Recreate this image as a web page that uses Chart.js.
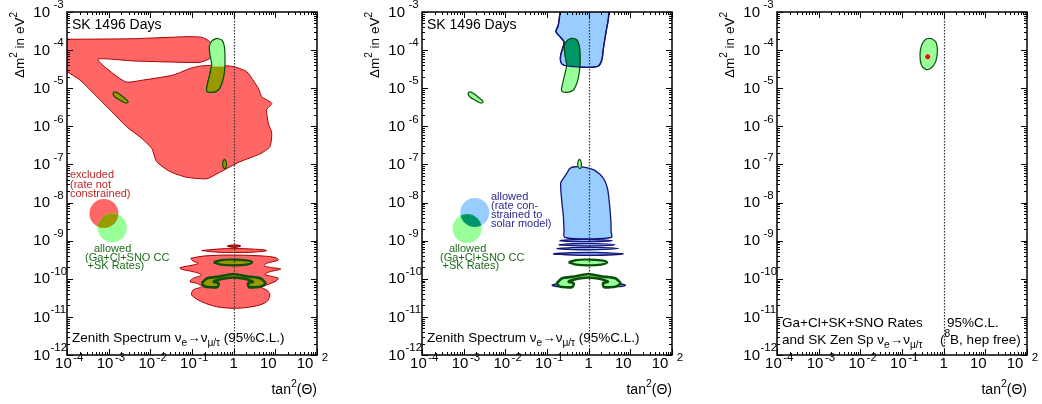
<!DOCTYPE html>
<html>
<head>
<meta charset="utf-8">
<script src="https://cdn.jsdelivr.net/npm/chart.js@4.4.1/dist/chart.umd.min.js"></script>
<style>
  html, body { margin: 0; padding: 0; background: #fff; }
  #wrap { position: relative; width: 1042px; height: 404px; overflow: hidden; }
  #wrap canvas { position: absolute; top: 0; }
</style>
</head>
<body>
<div id="wrap">
  <canvas id="panel1" width="332" height="404" style="left:0px"></canvas>
  <canvas id="panel2" width="332" height="404" style="left:355px"></canvas>
  <canvas id="panel3" width="332" height="404" style="left:710px"></canvas>
</div>
<script>
// Axes
const xRange = [1e-4, 100];
const yRange = [1e-12, 1e-3];
const xTickValues = [1e-4, 1e-3, 1e-2, 1e-1, 1, 10, 100];
const xTickLabels = [['10', '-4'], ['10', '-3'], ['10', '-2'], ['10', '-1'], ['1', ''], ['10', ''], ['10', '2']];
const yTickValues = [1e-12, 1e-11, 1e-10, 1e-9, 1e-8, 1e-7, 1e-6, 1e-5, 1e-4, 1e-3];
const yTickLabels = [['10', '-12'], ['10', '-11'], ['10', '-10'], ['10', '-9'], ['10', '-8'],
                     ['10', '-7'], ['10', '-6'], ['10', '-5'], ['10', '-4'], ['10', '-3']];
const maximalMixing = 1;

// Allowed regions from Ga+Cl+SNO CC+SK rates (same in panels 1 and 2), [tan^2, dm^2]
const ratesLma = [[0.39, 2.04e-4], [0.52, 1.84e-4], [0.6, 1.23e-4], [0.62, 5.0e-5], [0.6, 2.7e-5], [0.535, 1.48e-5],
  [0.43, 9.0e-6], [0.3, 7.8e-6], [0.225, 8.5e-6], [0.238, 1.35e-5], [0.271, 2.47e-5], [0.297, 4.07e-5],
  [0.271, 7.4e-5], [0.26, 1.23e-4], [0.297, 1.73e-4], [0.39, 2.04e-4]];
const ratesSma = [[1.35e-3, 8.1e-6], [1.69e-3, 7.4e-6], [2.44e-3, 5.4e-6], [2.93e-3, 4.4e-6], [2.54e-3, 4.1e-6],
  [1.85e-3, 4.9e-6], [1.4e-3, 6.0e-6], [1.28e-3, 7.0e-6], [1.35e-3, 8.1e-6]];
const ratesLow = [[0.6, 1.38e-7], [0.65, 1.22e-7], [0.67, 9.5e-8], [0.63, 7.8e-8], [0.56, 8.5e-8], [0.55, 1.15e-7], [0.6, 1.38e-7]];
const ratesVacLens = [[0.33, 2.7e-10], [0.5, 3.1e-10], [1.0, 3.2e-10], [2.0, 3.05e-10], [2.8, 2.7e-10],
  [2.0, 2.35e-10], [1.0, 2.25e-10], [0.5, 2.35e-10], [0.33, 2.7e-10]];
const ratesVacArch = [[0.17, 7.6e-11], [0.23, 1.03e-10], [0.45, 1.15e-10], [0.98, 1.33e-10], [2.15, 1.15e-10],
  [4.4, 1.03e-10], [5.8, 7.6e-11], [4.6, 6.3e-11], [2.35, 6.0e-11], [2.2, 7.6e-11], [2.9, 8.4e-11],
  [2.05, 9.7e-11], [0.98, 1.08e-10], [0.48, 9.7e-11], [0.33, 8.4e-11], [0.44, 7.6e-11], [0.4, 6.0e-11],
  [0.2, 6.3e-11], [0.17, 7.6e-11]];

// Panel 1: SK zenith spectrum excluded (rate not constrained)
const p1Excluded = [[6.8e-5, 1.92e-4], [3.9e-3, 1.99e-4], [0.0746, 2.25e-4], [0.171, 2.17e-4], [0.27, 1.66e-4],
  [0.324, 1.0e-4], [0.27, 6.1e-5], [0.156, 4.8e-5], [0.0247, 4.9e-5], [3.9e-3, 5.2e-5], [5.5e-4, 5.7e-5],
  [2.5e-3, 1.48e-5], [6.8e-3, 1.64e-5], [0.0356, 2.22e-5], [0.0895, 3.3e-5], [0.156, 3.8e-5], [0.324, 4.0e-5],
  [0.98, 3.7e-5], [2.06, 2.7e-5], [3.9, 1.0e-5], [4.7, 6.0e-6], [8.2, 4.0e-6], [6.2, 2.7e-6], [6.8, 1.2e-6],
  [8.2, 6.6e-7], [7.4, 2.9e-7], [4.3, 1.9e-7], [1.42, 1.18e-7], [0.82, 8.7e-8], [0.39, 5.6e-8], [0.225, 4.2e-8],
  [0.0746, 4.6e-8], [0.0297, 6.5e-8], [0.0142, 1.18e-7], [0.0108, 2.65e-7], [5.6e-3, 5.3e-7], [2.7e-3, 9.8e-7],
  [1.08e-3, 2.7e-6], [4.3e-4, 7.4e-6], [2.05e-4, 1.64e-5], [1e-4, 2.7e-5], [6.8e-5, 3.2e-5]];
const p1ExcludedLow = [[0.0931, 3.44e-10], [0.187, 3.95e-10], [0.98, 4.2e-10], [5.14, 3.95e-10], [10.4, 3.57e-10],
  [11.8, 3.11e-10], [6.2, 2.55e-10], [5.4, 2.2e-10], [7.4, 2.0e-10], [13.5, 1.8e-10], [7.4, 1.53e-10],
  [5.6, 1.31e-10], [8.9, 1.13e-10], [11.8, 1.03e-10], [9.8, 8.4e-11], [6.2, 6.9e-11], [4.7, 5.8e-11],
  [6.2, 5.1e-11], [7.4, 3.75e-11], [6.2, 2.5e-11], [3.6, 1.96e-11], [1.18, 1.68e-11], [0.39, 1.85e-11],
  [0.171, 2.5e-11], [0.098, 3.75e-11], [0.107, 5.1e-11], [0.171, 6.2e-11], [0.13, 7.6e-11], [0.0895, 8.4e-11],
  [0.107, 1.03e-10], [0.171, 1.26e-10], [0.107, 1.53e-10], [0.0566, 1.77e-10], [0.0515, 1.95e-10],
  [0.107, 2.3e-10], [0.142, 2.55e-10], [0.107, 2.9e-10], [0.0931, 3.44e-10]];
const p1ExcludedBar1 = [[0.7, 7.2e-10], [0.9, 7.6e-10], [1.2, 7.6e-10], [1.45, 7.2e-10], [1.2, 6.8e-10], [0.9, 6.8e-10], [0.7, 7.2e-10]];
const p1ExcludedBar2 = [[0.17, 5.5e-10], [0.4, 6.0e-10], [1.0, 6.2e-10], [3.0, 6.0e-10], [6.2, 5.5e-10],
  [3.0, 5.0e-10], [1.0, 4.9e-10], [0.4, 5.0e-10], [0.17, 5.5e-10]];
const p1LmaOverlap = [[0.61, 3.7e-5], [0.6, 2.7e-5], [0.535, 1.48e-5], [0.43, 9.0e-6], [0.3, 7.8e-6],
  [0.225, 8.5e-6], [0.238, 1.35e-5], [0.271, 2.47e-5], [0.29, 3.7e-5]];
const p1LegendExcluded = [[7.7e-4, 5.2e-9]];
const p1LegendAllowed = [[1.22e-3, 2.19e-9]];

// Panel 2: SK zenith spectrum allowed (rate constrained to solar model)
const p2Lma = [[0.21, 1.5e-3], [0.205, 1e-3], [0.187, 4.56e-4], [0.164, 3.04e-4], [0.205, 2.25e-4], [0.256, 1.66e-4],
  [0.238, 1.12e-4], [0.213, 7.4e-5], [0.213, 5.0e-5], [0.247, 4.07e-5], [0.43, 3.7e-5], [1.08, 3.54e-5],
  [1.71, 3.83e-5], [2.07, 5.5e-5], [2.26, 1.12e-4], [2.62, 3.04e-4], [2.98, 6.8e-4], [3.1, 1.5e-3]];
const p2Low = [[0.297, 5.8e-8], [0.357, 7.9e-8], [0.471, 8.7e-8], [0.82, 8.4e-8], [1.43, 6.9e-8], [2.26, 4.3e-8],
  [2.82, 2.37e-8], [3.15, 9.5e-9], [3.4, 3.5e-9], [3.46, 1.72e-9], [3.52, 1.22e-9], [0.9, 1.12e-9],
  [0.267, 1.22e-9], [0.256, 1.9e-9], [0.247, 4.3e-9], [0.225, 1.17e-8], [0.213, 3.2e-8], [0.247, 4.3e-8], [0.297, 5.8e-8]];
const p2Ripple1 = [[0.2, 1.0e-9], [0.4, 1.06e-9], [1.5, 1.07e-9], [3.7, 1.0e-9], [1.5, 0.95e-9], [0.4, 0.95e-9], [0.2, 1.0e-9]];
const p2Ripple2 = [[0.19, 7.8e-10], [0.4, 8.3e-10], [1.5, 8.4e-10], [4.3, 7.8e-10], [1.5, 7.3e-10], [0.4, 7.4e-10], [0.19, 7.8e-10]];
const p2Ripple3 = [[0.17, 6.2e-10], [0.4, 6.6e-10], [1.5, 6.7e-10], [5.2, 6.2e-10], [1.5, 5.8e-10], [0.4, 5.85e-10], [0.17, 6.2e-10]];
const p2Ripple4 = [[0.14, 4.5e-10], [0.4, 4.85e-10], [1.5, 4.9e-10], [6.8, 4.5e-10], [1.5, 4.15e-10], [0.4, 4.2e-10], [0.14, 4.5e-10]];
const p2TipLeft = [[0.13, 6.8e-11], [0.17, 7.3e-11], [0.25, 7.1e-11], [0.25, 6.4e-11], [0.17, 6.3e-11], [0.13, 6.8e-11]];
const p2TipRight = [[4.2, 7.1e-11], [5.5, 7.3e-11], [7.6, 6.8e-11], [5.5, 6.3e-11], [4.2, 6.4e-11], [4.2, 7.1e-11]];
const p2LmaOverlap = [[0.29, 3.7e-5], [0.297, 4.07e-5], [0.271, 7.4e-5], [0.26, 1.23e-4], [0.297, 1.73e-4],
  [0.39, 2.04e-4], [0.52, 1.84e-4], [0.6, 1.23e-4], [0.62, 5.0e-5], [0.61, 3.7e-5]];
const p2LegendSolar = [[1.85e-3, 5.5e-9]];
const p2LegendRates = [[1.21e-3, 2.1e-9]];

// Panel 3: combined fit
const p3Allowed = [[0.49, 2.04e-4], [0.646, 1.66e-4], [0.71, 1.0e-4], [0.646, 5.0e-5], [0.49, 3.33e-5],
  [0.371, 3.13e-5], [0.292, 4.07e-5], [0.27, 7.4e-5], [0.297, 1.36e-4], [0.371, 1.92e-4], [0.49, 2.04e-4]];
const p3BestFit = [[0.414, 6.7e-5]];

// colours
const RED = '#ff6666', RED_LINE = '#a80000';
const GREEN = '#99ff99', GREEN_LINE = '#0b4f0b';
const OLIVE = '#999900';
const BLUE = '#99ccff', BLUE_LINE = '#14147a';
const TEAL = '#00966a';
const FONT = '"Liberation Sans", Arial, Helvetica, sans-serif';

const pts = arr => arr.map(([x, y]) => ({x, y}));

function region(data, fill, line, width, tension) {
    return {
        data: pts(data), showLine: true, fill: 'shape',
        backgroundColor: fill, borderColor: line, borderWidth: width,
        pointRadius: 0, tension: tension === undefined ? 0.3 : tension,
        borderJoinStyle: 'round'
    };
}
function outline(data, line, width) {
    return {
        data: pts(data), showLine: true, fill: false, backgroundColor: 'transparent',
        borderColor: line, borderWidth: width, pointRadius: 0, tension: 0.3
    };
}
function dot(data, color, radius, style) {
    return {
        data: pts(data), showLine: false, pointRadius: radius,
        pointBackgroundColor: color, pointBorderColor: style ? color : 'transparent',
        pointBorderWidth: style ? 1.4 : 0, pointStyle: style || 'circle'
    };
}

// rich text: parts are [text, 0 normal | 1 superscript | -1 subscript]
function richWidth(ctx, parts, size) {
    let w = 0;
    for (const [t, k] of parts) {
        ctx.font = (k ? size * 0.75 : size) + 'px ' + FONT;
        w += ctx.measureText(t).width;
    }
    return w;
}
function drawRich(ctx, x, y, parts, size, color, align) {
    const w = richWidth(ctx, parts, size);
    let cx = align === 'right' ? x - w : align === 'center' ? x - w / 2 : x;
    ctx.fillStyle = color;
    ctx.textBaseline = 'middle';
    ctx.textAlign = 'left';
    for (const [t, k] of parts) {
        ctx.font = (k ? size * 0.75 : size) + 'px ' + FONT;
        const dy = k === 1 ? -size * 0.42 : k === -1 ? size * 0.38 : 0;
        ctx.fillText(t, cx, y + dy);
        cx += ctx.measureText(t).width;
    }
}

const framePlugin = {
    id: 'frame',
    afterDatasetsDraw(chart, args, opts) {
        const {ctx, chartArea: a} = chart;
        if (opts.overlap) {
            const [under, over, color] = opts.overlap;
            const pu = chart.getDatasetMeta(under).data[0];
            const po = chart.getDatasetMeta(over).data[0];
            ctx.save();
            ctx.beginPath();
            ctx.arc(pu.x, pu.y, pu.options.radius, 0, Math.PI * 2);
            ctx.clip();
            ctx.beginPath();
            ctx.arc(po.x, po.y, po.options.radius, 0, Math.PI * 2);
            ctx.fillStyle = color;
            ctx.fill();
            ctx.restore();
        }
        // dotted line at maximal mixing
        const px = Math.round(chart.scales.x.getPixelForValue(maximalMixing)) + 0.5;
        ctx.save();
        ctx.strokeStyle = '#333';
        ctx.lineWidth = 1.2;
        ctx.setLineDash([1.5, 1.5]);
        ctx.beginPath();
        ctx.moveTo(px, a.top);
        ctx.lineTo(px, a.bottom);
        ctx.stroke();
        ctx.restore();
    },
    afterDraw(chart, args, opts) {
        const {ctx, chartArea: a, scales: {x, y}} = chart;
        ctx.save();
        // ticks, pointing inward on all four sides
        ctx.strokeStyle = '#000';
        ctx.lineWidth = 1;
        ctx.beginPath();
        const tickX = (v, len) => {
            const p = Math.round(x.getPixelForValue(v)) + 0.5;
            ctx.moveTo(p, a.bottom); ctx.lineTo(p, a.bottom - len);
            ctx.moveTo(p, a.top); ctx.lineTo(p, a.top + len);
        };
        const tickY = (v, len) => {
            const p = Math.round(y.getPixelForValue(v)) + 0.5;
            ctx.moveTo(a.left, p); ctx.lineTo(a.left + len, p);
            ctx.moveTo(a.right, p); ctx.lineTo(a.right - len, p);
        };
        xTickValues.forEach((v, i) => {
            tickX(v, 6);
            if (i < xTickValues.length - 1) for (let k = 2; k < 10; k++) tickX(v * k, 3);
        });
        yTickValues.forEach((v, i) => {
            tickY(v, 6);
            if (i < yTickValues.length - 1) for (let k = 2; k < 10; k++) tickY(v * k, 3);
        });
        ctx.stroke();
        // frame
        ctx.lineWidth = 1.5;
        ctx.strokeRect(a.left, a.top, a.right - a.left, a.bottom - a.top);

        // tick labels
        const shift = [-3.6, -3.6, -3.6, -3.6, 0, -7, -12];
        xTickValues.forEach((v, i) => {
            const [base, exp] = xTickLabels[i];
            const p = x.getPixelForValue(v) + shift[i];
            drawRich(ctx, p, a.bottom + 9, [[base, 0]], 15, '#000', 'center');
            if (exp) {
                ctx.font = '15px ' + FONT;
                const bw = ctx.measureText(base).width;
                const gap = exp.length > 1 ? 1.5 : 8.5;
                drawRich(ctx, p + bw / 2 + gap, a.bottom + 3, [[exp, 0]], 11.5, '#000', 'left');
            }
        });
        yTickValues.forEach((v, i) => {
            const [base, exp] = yTickLabels[i];
            const p = y.getPixelForValue(v);
            drawRich(ctx, a.left - 17, p + 0.5, [[base, 0]], 15, '#000', 'right');
            drawRich(ctx, a.left - 17 + (exp.length > 2 ? 0.5 : 3.5), p - 7, [[exp, 0]], 11.5, '#000', 'left');
        });

        // axis titles
        ctx.save();
        ctx.translate(20, 45);
        ctx.rotate(-Math.PI / 2);
        drawRich(ctx, 0, 0, [['\u0394m', 0], ['2', 1], [' in eV', 0], ['2', 1]], 13.5, '#000', 'center');
        ctx.restore();
        drawRich(ctx, a.right, 390, [['tan', 0], ['2', 1], ['(\u0398)', 0]], 14, '#000', 'right');

        // notes
        (opts.notes || []).forEach(n => drawRich(ctx, n.x, n.y, n.parts, n.size, n.color, 'left'));
        ctx.restore();
    }
};

const zenithNote = [['Zenith Spectrum \u03bd', 0], ['e', -1], ['\u2192\u03bd', 0], ['\u03bc/\u03c4', -1], [' (95%C.L.)', 0]];
const ratesNote = [
    {x: 94, y: 249, parts: [['allowed', 0]], size: 11, color: '#1e6b1e'},
    {x: 85, y: 257.5, parts: [['(Ga+Cl+SNO CC', 0]], size: 11, color: '#1e6b1e'},
    {x: 87.5, y: 266, parts: [['+SK Rates)', 0]], size: 11, color: '#1e6b1e'}
];

function makePanel(id, datasets, pluginOpts) {
    new Chart(document.getElementById(id), {
        type: 'line',
        data: {datasets: datasets.map((d, i) => Object.assign(d, {order: -i}))},
        options: {
            responsive: false,
            animation: false,
            events: [],
            layout: {autoPadding: false, padding: {left: 67, right: 15, top: 12, bottom: 49}},
            plugins: {legend: {display: false}, tooltip: {enabled: false}, frame: pluginOpts},
            scales: {
                x: {
                    type: 'logarithmic', min: xRange[0], max: xRange[1],
                    ticks: {display: false}, grid: {display: false}, border: {display: false},
                    afterFit: s => { s.height = 0; }
                },
                y: {
                    type: 'logarithmic', min: yRange[0], max: yRange[1],
                    ticks: {display: false}, grid: {display: false}, border: {display: false},
                    afterFit: s => { s.width = 0; }
                }
            }
        },
        plugins: [framePlugin]
    });
}

// Panel 1
const p1Sets = [
    region(p1Excluded, RED, RED_LINE, 1, 0.2),
    region(p1ExcludedLow, RED, RED_LINE, 1, 0.3),
    region(p1ExcludedBar1, RED, RED_LINE, 1.4, 0.4),
    region(p1ExcludedBar2, RED, RED_LINE, 1, 0.4),
    region(ratesLma, GREEN, GREEN_LINE, 1.2),
    region(p1LmaOverlap, OLIVE, GREEN_LINE, 1.2),
    region(ratesSma, OLIVE, GREEN_LINE, 1.2, 0.4),
    region(ratesLow, OLIVE, GREEN_LINE, 1.2, 0.4),
    region(ratesVacLens, OLIVE, GREEN_LINE, 2.2, 0.4),
    region(ratesVacArch, OLIVE, GREEN_LINE, 2.6, 0.2),
    dot(p1LegendExcluded, RED, 14.5),
    dot(p1LegendAllowed, GREEN, 14.5)
];
makePanel('panel1', p1Sets, {
    overlap: [10, 11, OLIVE],
    notes: [
        {x: 72, y: 25, parts: [['SK 1496 Days', 0]], size: 14, color: '#000'},
        {x: 70, y: 175, parts: [['excluded', 0]], size: 11, color: '#b82828'},
        {x: 70, y: 184.5, parts: [['(rate not', 0]], size: 11, color: '#b82828'},
        {x: 70, y: 194, parts: [['constrained)', 0]], size: 11, color: '#b82828'},
        ...ratesNote,
        {x: 72, y: 338, parts: zenithNote, size: 13.5, color: '#000'}
    ]
});

// Panel 2
const p2Sets = [
    region(p2Lma, BLUE, BLUE_LINE, 1.3, 0.3),
    region(p2Low, BLUE, BLUE_LINE, 1.3, 0.3),
    region(p2Ripple1, BLUE, BLUE_LINE, 1.3, 0.4),
    region(p2Ripple2, BLUE, BLUE_LINE, 1.3, 0.4),
    region(p2Ripple3, BLUE, BLUE_LINE, 1.3, 0.4),
    region(p2Ripple4, BLUE, BLUE_LINE, 1.5, 0.4),
    region(p2TipLeft, BLUE, BLUE_LINE, 1.5, 0.4),
    region(p2TipRight, BLUE, BLUE_LINE, 1.5, 0.4),
    region(ratesLma, GREEN, GREEN_LINE, 1.2),
    region(p2LmaOverlap, TEAL, GREEN_LINE, 1.2),
    outline(p2Lma, BLUE_LINE, 1.3),
    region(ratesSma, GREEN, GREEN_LINE, 1.2, 0.4),
    region(ratesLow, GREEN, GREEN_LINE, 1.2, 0.4),
    region(ratesVacLens, GREEN, GREEN_LINE, 2.2, 0.4),
    region(ratesVacArch, GREEN, GREEN_LINE, 2.6, 0.2),
    dot(p2LegendSolar, BLUE, 14.5),
    dot(p2LegendRates, GREEN, 14.5)
];
makePanel('panel2', p2Sets, {
    overlap: [15, 16, TEAL],
    notes: [
        {x: 72, y: 25, parts: [['SK 1496 Days', 0]], size: 14, color: '#000'},
        {x: 136, y: 196.7, parts: [['allowed', 0]], size: 11, color: '#2a2a8c'},
        {x: 136, y: 206, parts: [['(rate con-', 0]], size: 11, color: '#2a2a8c'},
        {x: 136, y: 215, parts: [['strained to', 0]], size: 11, color: '#2a2a8c'},
        {x: 136, y: 224, parts: [['solar model)', 0]], size: 11, color: '#2a2a8c'},
        ...ratesNote,
        {x: 72, y: 338, parts: zenithNote, size: 13.5, color: '#000'}
    ]
});

// Panel 3
const p3Sets = [
    region(p3Allowed, GREEN, GREEN_LINE, 1.2, 0.4),
    dot(p3BestFit, '#ff0000', 2.5, 'star')
];
makePanel('panel3', p3Sets, {
    notes: [
        {x: 72, y: 323.5, parts: [['Ga+Cl+SK+SNO Rates', 0]], size: 13.5, color: '#000'},
        {x: 72, y: 340, parts: [['and SK Zen Sp \u03bd', 0], ['e', -1], ['\u2192\u03bd', 0], ['\u03bc/\u03c4', -1]], size: 13.5, color: '#000'},
        {x: 237, y: 323.5, parts: [['95%C.L.', 0]], size: 13.5, color: '#000'},
        {x: 230, y: 340, parts: [['(', 0], ['8', 1], ['B, hep free)', 0]], size: 13.5, color: '#000'}
    ]
});
</script>
</body>
</html>
